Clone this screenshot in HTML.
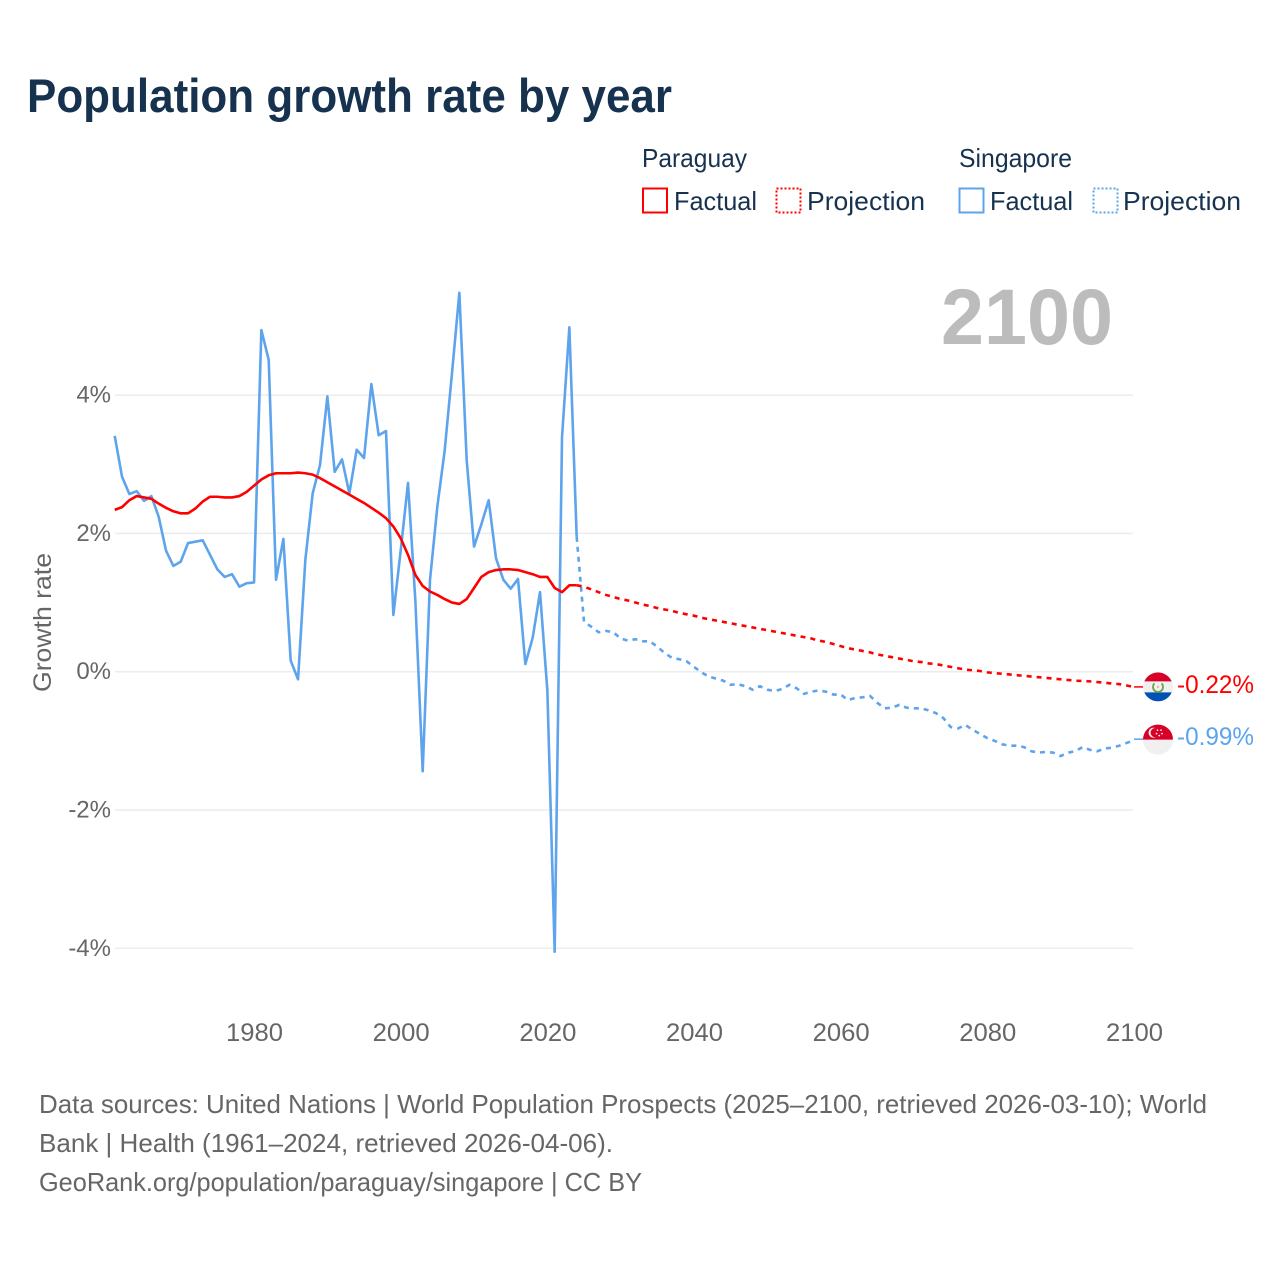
<!DOCTYPE html>
<html lang="en">
<head>
<meta charset="utf-8">
<title>Population growth rate by year</title>
<style>
  html, body { margin: 0; padding: 0; background: #ffffff; }
  svg { display: block; font-family: "Liberation Sans", "DejaVu Sans", sans-serif; }
</style>
</head>
<body>
<svg id="chart" xmlns="http://www.w3.org/2000/svg" width="1280" height="1280" viewBox="0 0 1280 1280">
  <rect x="0" y="0" width="1280" height="1280" fill="#ffffff"/>
  <text x="27" y="112" font-size="47" font-weight="700" fill="#17324f" textLength="645" lengthAdjust="spacingAndGlyphs">Population growth rate by year</text>

  <g font-size="26" fill="#17324f">
    <text x="642" y="167" textLength="105" lengthAdjust="spacingAndGlyphs">Paraguay</text>
    <text x="959" y="167" textLength="113" lengthAdjust="spacingAndGlyphs">Singapore</text>
    <rect x="643" y="188.5" width="24" height="24" fill="none" stroke="#ff0000" stroke-width="2"/>
    <text x="674" y="210" textLength="83" lengthAdjust="spacingAndGlyphs">Factual</text>
    <rect x="776.5" y="188.5" width="24" height="24" fill="none" stroke="#ff0000" stroke-width="2" stroke-dasharray="2 2"/>
    <text x="807" y="210" textLength="118" lengthAdjust="spacingAndGlyphs">Projection</text>
    <rect x="959.5" y="188.5" width="24" height="24" fill="none" stroke="#5da4ed" stroke-width="2"/>
    <text x="990" y="210" textLength="83" lengthAdjust="spacingAndGlyphs">Factual</text>
    <rect x="1093.5" y="188.5" width="24" height="24" fill="none" stroke="#5da4ed" stroke-width="2" stroke-dasharray="2 2"/>
    <text x="1123" y="210" textLength="118" lengthAdjust="spacingAndGlyphs">Projection</text>
  </g>

  <text x="941" y="344" font-size="79" font-weight="700" fill="#bcbcbc" textLength="172" lengthAdjust="spacingAndGlyphs">2100</text>
  <text transform="translate(51 692) rotate(-90)" x="0" y="0" font-size="25" fill="#666666" textLength="139" lengthAdjust="spacingAndGlyphs">Growth rate</text>

  <g id="grid"></g>
  <g id="yticks"></g>
  <g id="xticks"></g>
  <g id="series"></g>
  <g id="ends"></g>

  <g font-size="26" fill="#666666">
    <text x="39" y="1113" textLength="1168" lengthAdjust="spacingAndGlyphs">Data sources: United Nations | World Population Prospects (2025–2100, retrieved 2026-03-10); World</text>
    <text x="39" y="1152" textLength="574" lengthAdjust="spacingAndGlyphs">Bank | Health (1961–2024, retrieved 2026-04-06).</text>
    <text x="39" y="1191" textLength="603" lengthAdjust="spacingAndGlyphs">GeoRank.org/population/paraguay/singapore | CC BY</text>
  </g>
</svg>

<script>
const factualStartYear = 1961;
const projectionStartYear = 2024;

const yTickValues = [4, 2, 0, -2, -4];
const yTickLabels = ["4%", "2%", "0%", "-2%", "-4%"];
const xTickValues = [1980, 2000, 2020, 2040, 2060, 2080, 2100];
const xTickLabels = ["1980", "2000", "2020", "2040", "2060", "2080", "2100"];

const singaporeFactual = [
  3.41, 2.82, 2.57, 2.61, 2.47, 2.54, 2.24, 1.75, 1.53, 1.59,
  1.86, 1.88, 1.90, 1.69, 1.48, 1.37, 1.41, 1.23, 1.28, 1.29,
  4.94, 4.51, 1.33, 1.92, 0.16, -0.11, 1.62, 2.58, 2.99, 3.98,
  2.89, 3.07, 2.58, 3.21, 3.09, 4.16, 3.42, 3.48, 0.82, 1.75,
  2.73, 1.03, -1.44, 1.33, 2.39, 3.20, 4.32, 5.48, 3.06, 1.81,
  2.13, 2.48, 1.64, 1.33, 1.20, 1.34, 0.11, 0.49, 1.15, -0.27,
  -4.05, 3.39, 4.98, 1.95
];

const singaporeProjection = [
  1.95, 0.72, 0.65, 0.57, 0.59, 0.57, 0.48, 0.45, 0.47, 0.44,
  0.44, 0.36, 0.27, 0.20, 0.18, 0.15, 0.07, -0.01, -0.07, -0.10,
  -0.13, -0.19, -0.18, -0.21, -0.26, -0.21, -0.26, -0.28, -0.25, -0.19,
  -0.24, -0.32, -0.29, -0.27, -0.29, -0.33, -0.33, -0.41, -0.38, -0.37,
  -0.35, -0.45, -0.53, -0.52, -0.48, -0.52, -0.53, -0.53, -0.56, -0.60,
  -0.67, -0.80, -0.82, -0.77, -0.84, -0.90, -0.96, -1.00, -1.05, -1.07,
  -1.07, -1.09, -1.15, -1.17, -1.16, -1.17, -1.22, -1.17, -1.15, -1.09,
  -1.13, -1.15, -1.11, -1.10, -1.07, -1.03, -0.99
];

const paraguayFactual = [
  2.34, 2.38, 2.48, 2.54, 2.52, 2.50, 2.43, 2.37, 2.32, 2.29,
  2.29, 2.36, 2.46, 2.53, 2.53, 2.52, 2.52, 2.54, 2.60, 2.69,
  2.78, 2.84, 2.87, 2.87, 2.87, 2.88, 2.87, 2.85, 2.80, 2.74,
  2.68, 2.62, 2.56, 2.50, 2.44, 2.37, 2.30, 2.22, 2.10, 1.93,
  1.69, 1.40, 1.24, 1.16, 1.11, 1.05, 1.00, 0.98, 1.05, 1.21,
  1.37, 1.44, 1.47, 1.48, 1.48, 1.47, 1.44, 1.41, 1.37, 1.37,
  1.21, 1.15, 1.25, 1.25
];

const paraguayProjection = [
  1.25, 1.23, 1.19, 1.15, 1.11, 1.08, 1.05, 1.03, 1.00, 0.97,
  0.95, 0.92, 0.90, 0.88, 0.85, 0.83, 0.81, 0.78, 0.76, 0.74,
  0.72, 0.70, 0.68, 0.66, 0.64, 0.62, 0.60, 0.58, 0.56, 0.54,
  0.52, 0.50, 0.48, 0.45, 0.43, 0.40, 0.37, 0.34, 0.32, 0.30,
  0.28, 0.25, 0.23, 0.21, 0.19, 0.17, 0.15, 0.14, 0.12, 0.11,
  0.09, 0.07, 0.05, 0.03, 0.02, 0.01, -0.01, -0.02, -0.03, -0.04,
  -0.05, -0.06, -0.07, -0.08, -0.09, -0.10, -0.11, -0.12, -0.13, -0.135,
  -0.14, -0.15, -0.16, -0.17, -0.18, -0.20, -0.22
];

const SVG_NS = "http://www.w3.org/2000/svg";
const RED = "#ff0000";
const BLUE = "#5da4ed";

function xScale(year) { return 114.7 + (year - 1961) * 7.333; }
function yScale(value) { return 671.7 - value * 69.15; }

function make(tag, attrs, parent) {
  const el = document.createElementNS(SVG_NS, tag);
  for (const key in attrs) el.setAttribute(key, attrs[key]);
  parent.appendChild(el);
  return el;
}

function linePath(values, startYear) {
  return values.map(function (v, i) {
    return (i ? "L" : "M") + xScale(startYear + i).toFixed(2) + " " + yScale(v).toFixed(2);
  }).join(" ");
}

const gridGroup = document.getElementById("grid");
const yTickGroup = document.getElementById("yticks");
yTickValues.forEach(function (v, i) {
  const y = yScale(v);
  const gridLine = make("line", { x1: 115, x2: 1133, y1: y, y2: y, stroke: "#ececec", "stroke-width": 1.5 }, gridGroup);
  
  
  const label = make("text", { x: 111, y: y + 7.5, "text-anchor": "end", "font-size": 24, fill: "#666666" }, yTickGroup);
  
  
  label.textContent = yTickLabels[i];
});

const xTickGroup = document.getElementById("xticks");
xTickValues.forEach(function (v, i) {
  const label = make("text", { x: xScale(v) + 0.5, y: 1041, "text-anchor": "middle", "font-size": 25, fill: "#666666", textLength: 57, lengthAdjust: "spacingAndGlyphs" }, xTickGroup);
  
  
  label.textContent = xTickLabels[i];
});

const seriesGroup = document.getElementById("series");

const singaporeFactualLine = make("path", { d: linePath(singaporeFactual, factualStartYear), fill: "none", stroke: BLUE, "stroke-width": 2.6, "stroke-linejoin": "round" }, seriesGroup);



const singaporeProjectionLine = make("path", { d: linePath(singaporeProjection, projectionStartYear), fill: "none", stroke: BLUE, "stroke-width": 2.6, "stroke-dasharray": "5 5" }, seriesGroup);



const paraguayFactualLine = make("path", { d: linePath(paraguayFactual, factualStartYear), fill: "none", stroke: RED, "stroke-width": 2.6, "stroke-linejoin": "round" }, seriesGroup);



const paraguayProjectionLine = make("path", { d: linePath(paraguayProjection, projectionStartYear), fill: "none", stroke: RED, "stroke-width": 2.6, "stroke-dasharray": "5 5" }, seriesGroup);



const endsGroup = document.getElementById("ends");
const lastYear = projectionStartYear + paraguayProjection.length - 1;

function formatPercent(v) { return v.toFixed(2) + "%"; }

/* Paraguay end marker */
const pyValue = paraguayProjection[paraguayProjection.length - 1];
const pyY = yScale(pyValue);
const pyConnector = make("line", { x1: xScale(lastYear), x2: 1146, y1: pyY, y2: pyY, stroke: RED, "stroke-width": 1.5 }, endsGroup);


const pyFlag = make("g", { transform: "translate(1158 " + pyY + ")" }, endsGroup);


make("circle", { r: 15, fill: "#f0f0f0" }, pyFlag);
make("path", { d: "M-13.7 -5.5 A15 15 0 0 1 13.7 -5.5 Z", fill: "#d80027" }, pyFlag);
make("path", { d: "M-13.7 5.5 A15 15 0 0 0 13.7 5.5 Z", fill: "#0052b4" }, pyFlag);
make("path", { d: "M-3.5 -3.5 A5 5 0 1 0 3.5 -3.5", fill: "none", stroke: "#6da544", "stroke-width": 1.8 }, pyFlag);
make("circle", { r: 1.2, fill: "#f0b0a8" }, pyFlag);
const pyLabel = make("text", { x: 1177, y: pyY + 6, "font-size": 25, fill: RED, textLength: 77, lengthAdjust: "spacingAndGlyphs" }, endsGroup);


pyLabel.textContent = formatPercent(pyValue);

/* Singapore end marker */
const sgValue = singaporeProjection[singaporeProjection.length - 1];
const sgY = yScale(sgValue);
const sgConnector = make("line", { x1: xScale(lastYear), x2: 1146, y1: sgY - 1, y2: sgY - 1, stroke: BLUE, "stroke-width": 1.5 }, endsGroup);


const sgFlag = make("g", { transform: "translate(1158 " + (sgY - 0.5) + ")" }, endsGroup);


make("circle", { r: 15, fill: "#f0f0f0" }, sgFlag);
make("path", { d: "M-15 0 A15 15 0 0 1 15 0 Z", fill: "#d80027" }, sgFlag);
make("circle", { cx: -4.5, cy: -7, r: 5, fill: "#f0f0f0" }, sgFlag);
make("circle", { cx: -2.8, cy: -7, r: 4.6, fill: "#d80027" }, sgFlag);
make("circle", { cx: -0.5, cy: -9.5, r: 0.9, fill: "#f0f0f0" }, sgFlag);
make("circle", { cx: 3, cy: -9.5, r: 0.9, fill: "#f0f0f0" }, sgFlag);
make("circle", { cx: -1.5, cy: -6, r: 0.9, fill: "#f0f0f0" }, sgFlag);
make("circle", { cx: 4, cy: -6, r: 0.9, fill: "#f0f0f0" }, sgFlag);
make("circle", { cx: 1.2, cy: -4, r: 0.9, fill: "#f0f0f0" }, sgFlag);
const sgLabel = make("text", { x: 1177, y: sgY + 5, "font-size": 25, fill: BLUE, textLength: 77, lengthAdjust: "spacingAndGlyphs" }, endsGroup);


sgLabel.textContent = formatPercent(sgValue);
</script>
</body>
</html>
